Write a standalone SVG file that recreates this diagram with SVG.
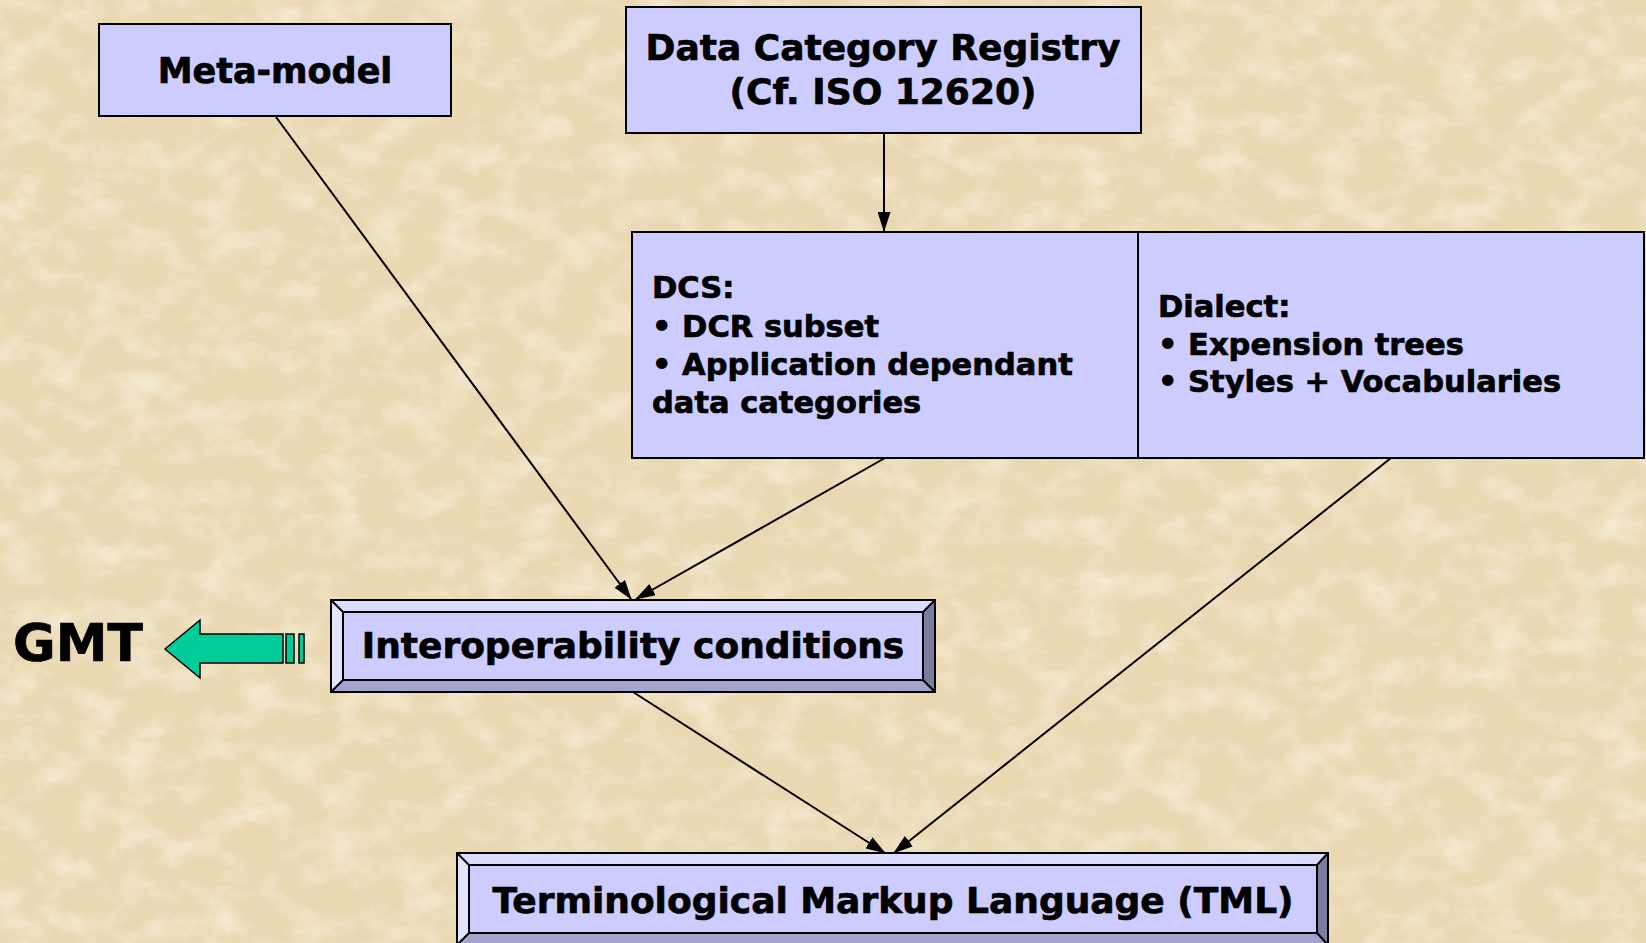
<svg xmlns="http://www.w3.org/2000/svg" width="1646" height="943" viewBox="0 0 1646 943">
<style>
.box{fill:#CCCCFF;stroke:#000;stroke-width:2}
.t{font-family:"DejaVu Sans","Liberation Sans",sans-serif;font-weight:bold;fill:#000;stroke:#000;stroke-width:0.7}
.c{text-anchor:middle}
.conn{stroke:#000;stroke-width:2;fill:none;marker-end:url(#ah)}
.bt{fill:#DCDCFF}
.bl{fill:#E4E4FF}
.bb{fill:#A3A3CC}
.br{fill:#7C7C9E}
.edge{fill:none;stroke:#000;stroke-width:2}
</style>
<defs>
<marker id="ah" markerWidth="20" markerHeight="13" refX="19" refY="6.5" orient="auto" markerUnits="userSpaceOnUse">
<path d="M0,0 L20,6.5 L0,13 z" fill="#000"/>
</marker>
<filter id="lite" x="0" y="0" width="100%" height="100%">
<feTurbulence type="fractalNoise" baseFrequency="0.025 0.035" numOctaves="5" seed="7"/>
<feColorMatrix type="matrix" values="0 0 0 0 0.98  0 0 0 0 0.93  0 0 0 0 0.82  2.2 0 0 0 -0.95"/>
</filter>
<filter id="dark" x="0" y="0" width="100%" height="100%">
<feTurbulence type="fractalNoise" baseFrequency="0.04 0.05" numOctaves="5" seed="19"/>
<feColorMatrix type="matrix" values="0 0 0 0 0.80  0 0 0 0 0.67  0 0 0 0 0.50  -2.2 0 0 0 1.0"/>
</filter>
</defs>
<rect x="0" y="0" width="1646" height="943" fill="#EAD8B2"/>
<rect x="0" y="0" width="1646" height="943" filter="url(#lite)" opacity="0.6"/>
<rect x="0" y="0" width="1646" height="943" filter="url(#dark)" opacity="0.4"/>

<g id="connectors">
<line class="conn" x1="276" y1="117" x2="631" y2="599"/>
<line class="conn" x1="885" y1="458" x2="636" y2="599"/>
<line class="conn" x1="884" y1="133" x2="884" y2="231"/>
<line class="conn" x1="633" y1="692" x2="885" y2="853"/>
<line class="conn" x1="1391" y1="458" x2="894" y2="853"/>
</g>

<g id="meta-model">
<rect class="box" x="99" y="24" width="352" height="92"/>
<text class="t c" x="275" y="83" font-size="35">Meta-model</text>
</g>

<g id="dcr">
<rect class="box" x="626" y="7" width="515" height="126"/>
<text class="t c" x="883" y="60" font-size="36">Data Category Registry</text>
<text class="t c" x="883" y="104" font-size="36">(Cf. ISO 12620)</text>
</g>

<g id="dcs">
<rect class="box" x="632" y="232" width="506" height="226"/>
<text class="t" x="652" y="298" font-size="30.5">DCS:</text>
<text class="t" x="652" y="337" font-size="30.5">• DCR subset</text>
<text class="t" x="652" y="375" font-size="30.5">• Application dependant</text>
<text class="t" x="652" y="413" font-size="30.5">data categories</text>
</g>

<g id="dialect">
<rect class="box" x="1138" y="232" width="506" height="226"/>
<text class="t" x="1158" y="317" font-size="30.5">Dialect:</text>
<text class="t" x="1158" y="355" font-size="30.5">• Expension trees</text>
<text class="t" x="1158" y="392" font-size="30.5">• Styles + Vocabularies</text>
</g>

<g id="interop">
<polygon class="bt" points="331,600 935,600 923,612 343,612"/>
<polygon class="bl" points="331,600 343,612 343,680 331,692"/>
<polygon class="bb" points="331,692 343,680 923,680 935,692"/>
<polygon class="br" points="935,600 935,692 923,680 923,612"/>
<rect x="343" y="612" width="580" height="68" fill="#CCCCFF"/>
<rect class="edge" x="331" y="600" width="604" height="92"/>
<rect class="edge" x="343" y="612" width="580" height="68"/>
<path class="edge" d="M331,600 L343,612 M935,600 L923,612 M331,692 L343,680 M935,692 L923,680"/>
<text class="t c" x="633" y="658" font-size="36">Interoperability conditions</text>
</g>

<g id="tml">
<polygon class="bt" points="457,853 1328,853 1317,865 469,865"/>
<polygon class="bl" points="457,853 469,865 469,933 457,945"/>
<polygon class="bb" points="457,945 469,933 1317,933 1328,945"/>
<polygon class="br" points="1328,853 1328,945 1317,933 1317,865"/>
<rect x="469" y="865" width="848" height="68" fill="#CCCCFF"/>
<rect class="edge" x="457" y="853" width="871" height="92"/>
<rect class="edge" x="469" y="865" width="848" height="68"/>
<path class="edge" d="M457,853 L469,865 M1328,853 L1317,865 M457,945 L469,933 M1328,945 L1317,933"/>
<text class="t c" x="893" y="913" font-size="36">Terminological Markup Language (TML)</text>
</g>

<g id="gmt">
<text class="t" x="13" y="661" font-size="52">GMT</text>
</g>

<g id="gmt-arrow">
<polygon points="165,649 200,620 200,634 283,634 283,663 200,663 200,678" fill="#00CC99" stroke="#000" stroke-width="1.5"/>
<rect x="286" y="634" width="8" height="29" fill="#00CC99" stroke="#000" stroke-width="1.5"/>
<rect x="299" y="634" width="5" height="29" fill="#00CC99" stroke="#000" stroke-width="1.5"/>
</g>
</svg>
